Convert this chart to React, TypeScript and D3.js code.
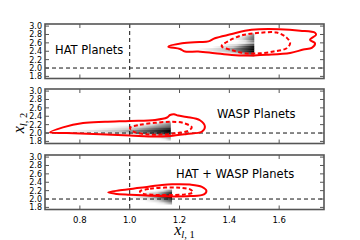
import React, { useEffect, useRef } from 'react';
import * as d3 from 'd3';

type Pt = [number, number];

// axis ticks (shared by the three panels)
const X_TICKS = [0.8, 1.0, 1.2, 1.4, 1.6];
const Y_TICKS = [1.8, 2.0, 2.2, 2.4, 2.6, 2.8, 3.0];
const PANEL_NAMES = ['HAT Planets', 'WASP Planets', 'HAT + WASP Planets'];

// contours in data units [x_l1, x_l2]: outer (solid) and inner (dashed)
const HAT_OUTER: Pt[] = [
  [1.155, 2.51], [1.21, 2.59], [1.28, 2.62], [1.316, 2.635], [1.342, 2.71], [1.41, 2.81],
  [1.463, 2.89], [1.52, 2.925], [1.6, 2.925], [1.684, 2.89], [1.744, 2.84], [1.748, 2.79],
  [1.724, 2.672], [1.744, 2.593], [1.731, 2.48], [1.697, 2.44], [1.644, 2.36], [1.55, 2.316],
  [1.463, 2.296], [1.41, 2.311], [1.342, 2.352], [1.275, 2.393], [1.222, 2.393], [1.202, 2.455],
];
const HAT_INNER: Pt[] = [
  [1.369, 2.52], [1.403, 2.665], [1.455, 2.786], [1.523, 2.841], [1.59, 2.846], [1.63, 2.725],
  [1.644, 2.593], [1.63, 2.472], [1.577, 2.393], [1.523, 2.352], [1.463, 2.352], [1.411, 2.424],
];
const WASP_OUTER: Pt[] = [
  [0.68, 2.014], [0.732, 2.135], [0.813, 2.239], [0.901, 2.267], [1.001, 2.287], [1.102, 2.311],
  [1.15, 2.37], [1.162, 2.43], [1.178, 2.448], [1.194, 2.417], [1.229, 2.383], [1.282, 2.304],
  [1.302, 2.147], [1.289, 2.031], [1.229, 1.978], [1.162, 1.93], [1.102, 1.915], [1.001, 1.94],
  [0.881, 1.97], [0.747, 1.998],
];
const WASP_INNER: Pt[] = [
  [1.001, 2.123], [1.041, 2.195], [1.102, 2.243], [1.162, 2.267], [1.214, 2.243], [1.249, 2.135],
  [1.234, 2.051], [1.194, 2.002], [1.142, 1.966], [1.073, 1.966], [1.013, 2.039],
];
const BOTH_OUTER: Pt[] = [
  [0.914, 2.159], [0.961, 2.207], [1.041, 2.267], [1.122, 2.328], [1.17, 2.352], [1.242, 2.345],
  [1.29, 2.292], [1.308, 2.195], [1.298, 2.111], [1.242, 2.07], [1.162, 2.063], [1.082, 2.08],
  [1.001, 2.104], [0.941, 2.128],
];
const BOTH_INNER: Pt[] = [
  [1.041, 2.183], [1.082, 2.243], [1.142, 2.272], [1.202, 2.267], [1.246, 2.219], [1.254, 2.159],
  [1.222, 2.111], [1.162, 2.094], [1.101, 2.099], [1.053, 2.128],
];

// gray sample density: one row per x_l2 value, fading in from x0 up to the cut
const HAT_ROW_Y = [2.8, 2.75, 2.7, 2.65, 2.6, 2.55, 2.5, 2.45, 2.4, 2.35, 2.3];
const HAT_ROW_X0 = [1.45, 1.42, 1.4, 1.43, 1.42, 1.36, 1.33, 1.27, 1.3, 1.38, 1.45];
const HAT_ROW_DEPTH = [0.45, 0.55, 0.6, 0.5, 0.35, 0.7, 0.95, 1.0, 1.0, 0.8, 0.4];
const HAT_CUT = 1.5;

const WASP_ROW_Y = [2.25, 2.2, 2.15, 2.1, 2.05, 2.0, 1.95, 1.9, 1.85];
const WASP_ROW_X0 = [1.08, 1.0, 0.92, 0.85, 0.75, 0.85, 1.02, 1.08, 1.12];
const WASP_ROW_DEPTH = [0.35, 0.5, 0.6, 0.85, 1.0, 0.9, 0.6, 0.4, 0.25];
const WASP_CUT = 1.165;

const BOTH_ROW_Y = [2.2, 2.15, 2.1, 2.05, 2.0, 1.95, 1.9];
const BOTH_ROW_X0 = [1.1, 1.05, 1.02, 1.0, 1.03, 1.06, 1.1];
const BOTH_ROW_DEPTH = [0.5, 0.8, 0.95, 1.0, 0.8, 0.6, 0.35];
const BOTH_CUT = 1.17;

const panels = [
  { outer: HAT_OUTER, inner: HAT_INNER, rowY: HAT_ROW_Y, rowX0: HAT_ROW_X0, rowDepth: HAT_ROW_DEPTH, cut: HAT_CUT },
  { outer: WASP_OUTER, inner: WASP_INNER, rowY: WASP_ROW_Y, rowX0: WASP_ROW_X0, rowDepth: WASP_ROW_DEPTH, cut: WASP_CUT },
  { outer: BOTH_OUTER, inner: BOTH_INNER, rowY: BOTH_ROW_Y, rowX0: BOTH_ROW_X0, rowDepth: BOTH_ROW_DEPTH, cut: BOTH_CUT },
];

// layout
const W = 360;
const H = 240;
const LEFT = 45;
const RIGHT = 324;
const PANEL_TOPS = [24, 89, 155];
const PANEL_H = 54.5;
const LABEL_POS: Pt[] = [[55, 30], [217, 29], [176, 23]]; // x, offset from panel top
const ROW_H = 0.05;
const FRAME = '#555';

const App: React.FC = () => {
  const svgRef = useRef<SVGSVGElement>(null);

  useEffect(() => {
    if (!svgRef.current) return;
    const svg = d3.select(svgRef.current);
    svg.selectAll('*').remove();
    const defs = svg.append('defs');

    const x = d3.scaleLinear().domain([0.66, 1.78]).range([LEFT, RIGHT]);

    panels.forEach((p, i) => {
      const top = PANEL_TOPS[i];
      const bottom = top + PANEL_H;
      const y = d3.scaleLinear().domain([1.75, 3.05]).range([bottom, top]);
      const g = svg.append('g');

      // density rows
      p.rowY.forEach((ry, j) => {
        const id = `fade-${i}-${j}`;
        const x0 = x(p.rowX0[j]);
        const x1 = x(p.cut);
        const grad = defs
          .append('linearGradient')
          .attr('id', id)
          .attr('gradientUnits', 'userSpaceOnUse')
          .attr('x1', x0)
          .attr('x2', x1)
          .attr('y1', 0)
          .attr('y2', 0);
        [[0, 0], [0.5, 0.22], [0.8, 0.7], [1, 1]].forEach(([o, a]) =>
          grad
            .append('stop')
            .attr('offset', o)
            .attr('stop-color', '#000')
            .attr('stop-opacity', a * p.rowDepth[j])
        );
        g.append('rect')
          .attr('x', x0)
          .attr('width', x1 - x0)
          .attr('y', y(ry + ROW_H / 2))
          .attr('height', y(ry - ROW_H / 2) - y(ry + ROW_H / 2) + 0.2)
          .attr('fill', `url(#${id})`);
      });

      // reference lines at x_l1 = 1, x_l2 = 2
      g.append('line')
        .attr('x1', x(1)).attr('x2', x(1))
        .attr('y1', top).attr('y2', bottom)
        .attr('stroke', '#111').attr('stroke-width', 1)
        .attr('stroke-dasharray', '4,3');
      g.append('line')
        .attr('x1', LEFT).attr('x2', RIGHT)
        .attr('y1', y(2)).attr('y2', y(2))
        .attr('stroke', '#111').attr('stroke-width', 1)
        .attr('stroke-dasharray', '4,3');

      // contours
      const line = d3
        .line<Pt>()
        .x((d) => x(d[0]))
        .y((d) => y(d[1]))
        .curve(d3.curveCatmullRomClosed.alpha(0.5));
      g.append('path')
        .attr('d', line(p.outer))
        .attr('fill', 'none')
        .attr('stroke', '#ff0000')
        .attr('stroke-width', 2)
        .attr('stroke-linejoin', 'round');
      g.append('path')
        .attr('d', line(p.inner))
        .attr('fill', 'none')
        .attr('stroke', '#ff0000')
        .attr('stroke-width', 2)
        .attr('stroke-dasharray', '4,2.5');

      // frame and inward ticks on all sides
      g.append('rect')
        .attr('x', LEFT).attr('y', top)
        .attr('width', RIGHT - LEFT).attr('height', PANEL_H)
        .attr('fill', 'none').attr('stroke', FRAME).attr('stroke-width', 1.6);
      X_TICKS.forEach((t) => {
        g.append('line').attr('x1', x(t)).attr('x2', x(t)).attr('y1', bottom).attr('y2', bottom - 4)
          .attr('stroke', FRAME);
        g.append('line').attr('x1', x(t)).attr('x2', x(t)).attr('y1', top).attr('y2', top + 4)
          .attr('stroke', FRAME);
      });
      Y_TICKS.forEach((t) => {
        g.append('line').attr('x1', LEFT).attr('x2', LEFT + 4).attr('y1', y(t)).attr('y2', y(t))
          .attr('stroke', FRAME);
        g.append('line').attr('x1', RIGHT).attr('x2', RIGHT - 4).attr('y1', y(t)).attr('y2', y(t))
          .attr('stroke', FRAME);
        g.append('text')
          .attr('x', LEFT - 3)
          .attr('y', y(t) + 3)
          .attr('text-anchor', 'end')
          .attr('font-family', 'DejaVu Sans')
          .attr('font-size', 8)
          .attr('fill', '#000')
          .text(t.toFixed(1));
      });

      if (i === panels.length - 1) {
        X_TICKS.forEach((t) => {
          g.append('text')
            .attr('x', x(t))
            .attr('y', bottom + 13.5)
            .attr('text-anchor', 'middle')
            .attr('font-family', 'DejaVu Sans')
            .attr('font-size', 8.5)
            .attr('fill', '#000')
            .text(t.toFixed(1));
        });
      }

      g.append('text')
        .attr('x', LABEL_POS[i][0])
        .attr('y', top + LABEL_POS[i][1])
        .attr('font-family', 'DejaVu Sans')
        .attr('font-size', 11.5)
        .attr('fill', '#000')
        .text(PANEL_NAMES[i]);
    });

    // axis labels x_{l,1}, x_{l,2}
    const mathLabel = (sel: d3.Selection<SVGTextElement, unknown, null, undefined>, sub: string) => {
      sel.attr('font-family', 'Liberation Serif').attr('fill', '#000').attr('text-anchor', 'middle');
      sel.append('tspan').attr('font-style', 'italic').attr('font-size', 16).text('x');
      sel.append('tspan').attr('font-style', 'italic').attr('font-size', 10.5).attr('dy', 3).text('l');
      sel.append('tspan').attr('font-size', 10.5).text(`, ${sub}`);
    };
    mathLabel(
      svg.append('text').attr('x', (LEFT + RIGHT) / 2).attr('y', 234.5) as any,
      '1'
    );
    mathLabel(
      svg.append('text').attr('transform', 'translate(24,123) rotate(-90)') as any,
      '2'
    );
  }, []);

  return (
    <svg
      ref={svgRef}
      width={W}
      height={H}
      style={{ position: 'absolute', left: 0, top: 0, background: '#fff' }}
    />
  );
};

export default App;
